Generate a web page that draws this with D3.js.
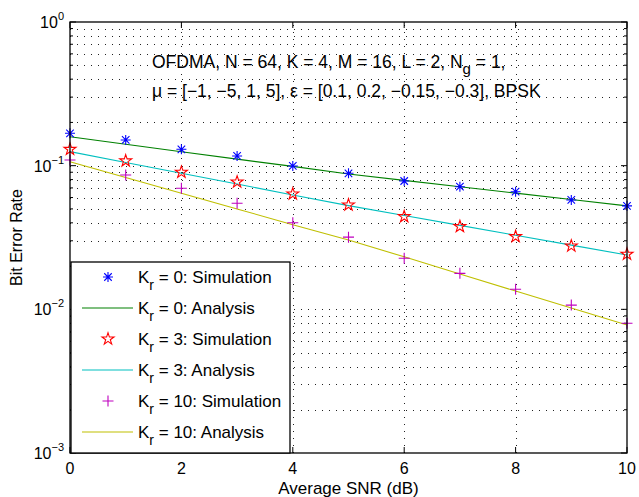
<!DOCTYPE html>
<html>
<head>
<meta charset="utf-8">
<script src="https://cdn.jsdelivr.net/npm/d3@7"></script>
<style>
  html, body { margin: 0; padding: 0; background: #fff; }
  svg { display: block; font-family: "Liberation Sans", Arial, sans-serif; }
</style>
</head>
<body>
<svg id="chart" width="639" height="497"></svg>
<script>
// --- données ---
const snr = [0, 1, 2, 3, 4, 5, 6, 7, 8, 9, 10];

const simK0  = [0.168, 0.151, 0.130, 0.1168, 0.0995, 0.0885, 0.0782, 0.0714, 0.0659, 0.0577, 0.0525];
const anaK0  = [0.159, 0.141, 0.125, 0.111, 0.0988, 0.0875, 0.0790, 0.0714, 0.0644, 0.0581, 0.0525];
const simK3  = [0.130, 0.108, 0.090, 0.077, 0.0636, 0.0533, 0.0442, 0.0377, 0.0321, 0.0276, 0.0242];
const anaK3  = [0.1252, 0.1053, 0.0886, 0.0745, 0.0625, 0.0527, 0.0450, 0.0384, 0.0328, 0.0280, 0.0239];
const simK10 = [0.1096, 0.0862, 0.0696, 0.0548, 0.0401, 0.0318, 0.0227, 0.0178, 0.0138, 0.0107, 0.0080];
const anaK10 = [0.1066, 0.0828, 0.0643, 0.0500, 0.0388, 0.0304, 0.0232, 0.0176, 0.0134, 0.0102, 0.00778];

const xTicks = [0, 2, 4, 6, 8, 10];
const yDecades = [-3, -2, -1, 0];

const legendLabels = [
  ["0", ": Simulation"], ["0", ": Analysis"],
  ["3", ": Simulation"], ["3", ": Analysis"],
  ["10", ": Simulation"], ["10", ": Analysis"]
];

// --- mise en page ---
const m = { left: 70, right: 627, top: 22, bottom: 453 };

const svg = d3.select("#chart");
const x = d3.scaleLinear().domain([0, 10]).range([m.left, m.right]);
const y = d3.scaleLog().domain([1e-3, 1]).range([m.bottom, m.top]);

// grille pointillée
const grid = svg.append("g")
  .attr("stroke", "#222")
  .attr("stroke-width", 1)
  .attr("stroke-dasharray", "1,6")
  .attr("shape-rendering", "crispEdges");

const yGridVals = y.ticks().filter(v => v > 1e-3 && v < 1);
grid.selectAll("line.h").data(yGridVals).join("line")
  .attr("x1", m.left).attr("x2", m.right)
  .attr("y1", d => Math.round(y(d)) + 0.5).attr("y2", d => Math.round(y(d)) + 0.5);

grid.selectAll("line.v").data(xTicks.slice(1, -1)).join("line")
  .attr("x1", d => Math.round(x(d)) + 0.5).attr("x2", d => Math.round(x(d)) + 0.5)
  .attr("y1", m.bottom).attr("y2", m.top);

// marques des axes (vers l'intérieur, sur les quatre côtés)
const ticks = svg.append("g").attr("stroke", "#000").attr("stroke-width", 1);
y.ticks().forEach(v => {
  const major = Math.abs(Math.log10(v) - Math.round(Math.log10(v))) < 1e-9;
  const len = major ? 6 : 3;
  const yy = y(v);
  ticks.append("line").attr("x1", m.left).attr("x2", m.left + len).attr("y1", yy).attr("y2", yy);
  ticks.append("line").attr("x1", m.right).attr("x2", m.right - len).attr("y1", yy).attr("y2", yy);
});
xTicks.forEach(v => {
  ticks.append("line").attr("x1", x(v)).attr("x2", x(v)).attr("y1", m.bottom).attr("y2", m.bottom - 6);
  ticks.append("line").attr("x1", x(v)).attr("x2", x(v)).attr("y1", m.top).attr("y2", m.top + 6);
});

// courbes d'analyse
const line = d3.line().x((d, i) => x(snr[i])).y(d => y(d));
const series = [
  { sim: simK0,  ana: anaK0,  lineColor: "#008000", markColor: "#0000ff", marker: "asterisk" },
  { sim: simK3,  ana: anaK3,  lineColor: "#00bfbf", markColor: "#ff0000", marker: "star" },
  { sim: simK10, ana: anaK10, lineColor: "#bfbf00", markColor: "#bf00bf", marker: "plus" }
];

series.forEach(s => {
  svg.append("path").datum(s.ana)
    .attr("fill", "none").attr("stroke", s.lineColor).attr("stroke-width", 1.1)
    .attr("d", line);
});

// symboles
function markerPath(type) {
  const p = d3.path();
  if (type === "asterisk") {
    const r = 5, d = r * 0.75;
    p.moveTo(-r, 0); p.lineTo(r, 0);
    p.moveTo(0, -r); p.lineTo(0, r);
    p.moveTo(-d, -d); p.lineTo(d, d);
    p.moveTo(-d, d); p.lineTo(d, -d);
  } else if (type === "plus") {
    const r = 5.5;
    p.moveTo(-r, 0); p.lineTo(r, 0);
    p.moveTo(0, -r); p.lineTo(0, r);
  } else {
    const R = 6.3, ri = R * 0.382;
    for (let k = 0; k < 10; k++) {
      const a = -Math.PI / 2 + k * Math.PI / 5;
      const rr = k % 2 === 0 ? R : ri;
      const px = rr * Math.cos(a), py = rr * Math.sin(a);
      if (k === 0) p.moveTo(px, py); else p.lineTo(px, py);
    }
    p.closePath();
  }
  return p.toString();
}

series.forEach(s => {
  svg.append("g").selectAll("path").data(s.sim).join("path")
    .attr("transform", (d, i) => `translate(${x(snr[i])},${y(d)})`)
    .attr("d", markerPath(s.marker))
    .attr("fill", "none").attr("stroke", s.markColor).attr("stroke-width", 1.1);
});

// cadre
svg.append("rect")
  .attr("x", m.left).attr("y", m.top)
  .attr("width", m.right - m.left).attr("height", m.bottom - m.top)
  .attr("fill", "none").attr("stroke", "#000").attr("stroke-width", 1.3);

// étiquettes des axes
svg.append("g").selectAll("text").data(xTicks).join("text")
  .attr("x", d => x(d)).attr("y", 474)
  .attr("text-anchor", "middle").attr("font-size", 16)
  .text(d => d);

const yl = svg.append("g").selectAll("text").data(yDecades).join("text")
  .attr("x", 64).attr("y", d => y(Math.pow(10, d)) + 6)
  .attr("text-anchor", "end").attr("font-size", 16);
yl.append("tspan").text("10");
yl.append("tspan").attr("dy", -8).attr("font-size", 11)
  .text(d => d === 0 ? "0" : "\u2212" + (-d));

svg.append("text")
  .attr("x", (m.left + m.right) / 2).attr("y", 494)
  .attr("text-anchor", "middle").attr("font-size", 17)
  .text("Average SNR (dB)");

svg.append("text")
  .attr("transform", `translate(22,${(m.top + m.bottom) / 2}) rotate(-90)`)
  .attr("text-anchor", "middle").attr("font-size", 16)
  .text("Bit Error Rate");

// annotation
const note = svg.append("g").attr("font-size", 17.5);
const t1 = note.append("text").attr("x", 152).attr("y", 68);
t1.append("tspan").text("OFDMA, N = 64, K = 4, M = 16, L = 2, N");
t1.append("tspan").attr("dy", 6).attr("font-size", 15).text("g");
t1.append("tspan").attr("dy", -6).text(" = 1,");
note.append("text").attr("x", 152).attr("y", 97)
  .text("\u03bc = [\u22121, \u22125, 1, 5], \u03b5 = [0.1, 0.2, \u22120.15, \u22120.3], BPSK");

// légende
const lg = { x: 71, y: 262, w: 219, h: 191 };
const legend = svg.append("g");
legend.append("rect")
  .attr("x", lg.x).attr("y", lg.y).attr("width", lg.w).attr("height", lg.h)
  .attr("fill", "#fff").attr("stroke", "#000").attr("stroke-width", 1.3);

legendLabels.forEach((lab, i) => {
  const s = series[Math.floor(i / 2)];
  const cy = 277 + i * 31;
  if (i % 2 === 0) {
    legend.append("path")
      .attr("transform", `translate(108,${cy})`)
      .attr("d", markerPath(s.marker))
      .attr("fill", "none").attr("stroke", s.markColor).attr("stroke-width", 1.1);
  } else {
    legend.append("line")
      .attr("x1", 82).attr("x2", 133).attr("y1", cy).attr("y2", cy)
      .attr("stroke", s.lineColor).attr("stroke-width", 1.1);
  }
  const t = legend.append("text").attr("x", 138).attr("y", cy + 6).attr("font-size", 17);
  t.append("tspan").text("K");
  t.append("tspan").attr("dy", 7).attr("font-size", 14).text("r");
  t.append("tspan").attr("dy", -7).text(" = " + lab[0] + lab[1]);
});
</script>
</body>
</html>
